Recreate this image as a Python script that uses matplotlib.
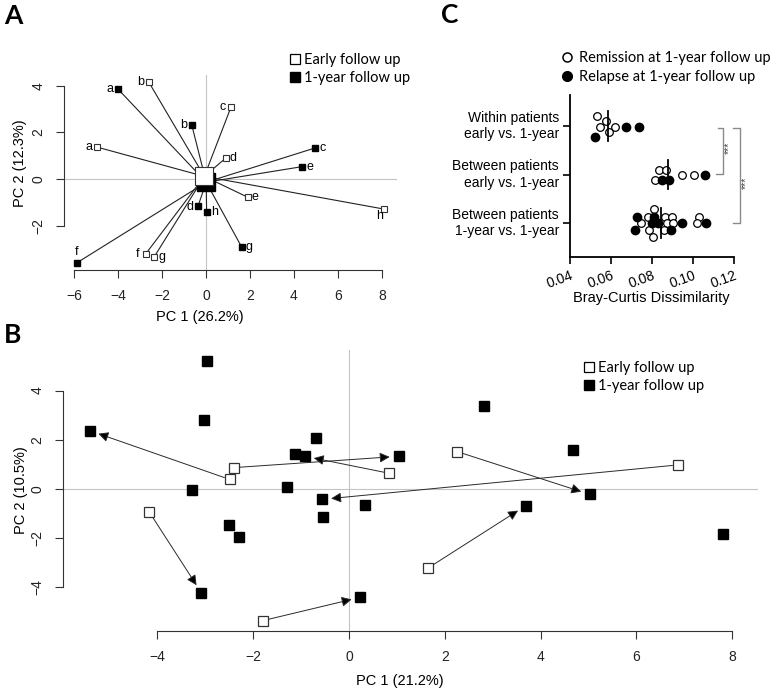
import matplotlib
matplotlib.use("Agg")
import matplotlib.pyplot as plt  # noqa: E402
import numpy as np  # noqa: E402
from matplotlib.lines import Line2D  # noqa: E402

plt.rcParams["font.family"] = ["Liberation Sans", "DejaVu Sans"]

W, H = 778, 689

# ---- panel A: PCA, each sample joined to its group centroid
a_ids = ["a", "b", "c", "d", "e", "f", "g", "h"]
a_early_x = [-4.95, -2.60, 1.14, 0.90, 1.90, -2.73, -2.36, 8.10]
a_early_y = [1.37, 4.16, 3.09, 0.90, -0.78, -3.20, -3.35, -1.29]
a_year_x = [-4.00, -0.64, 4.95, -0.36, 4.36, -5.88, 1.63, 0.03]
a_year_y = [3.86, 2.30, 1.33, -1.16, 0.53, -3.60, -2.93, -1.43]

# ---- panel B: PCA, early -> 1-year arrows for paired patients
b_early_x = [-2.49, -2.40, 0.84, 6.87, 2.26, -4.17, -1.80, 1.66]
b_early_y = [0.39, 0.87, 0.64, 0.98, 1.52, -0.93, -5.35, -3.20]
b_paired_x = [-5.41, 1.04, -0.92, -0.56, 5.03, -3.08, 0.24, 3.69]
b_paired_y = [2.37, 1.33, 1.33, -0.42, -0.22, -4.22, -4.40, -0.68]
b_other_x = [-2.97, -3.02, -3.28, -0.68, -1.13, -1.29, -2.50, -2.30, 0.33, -0.54, 7.81, 2.81, 4.67]
b_other_y = [5.22, 2.80, -0.04, 2.06, 1.42, 0.09, -1.48, -1.94, -0.65, -1.15, -1.82, 3.37, 1.59]

# ---- panel C: Bray-Curtis dissimilarities (1 = relapse at 1-year)
c_groups = ["Within patients\nearly vs. 1-year",
            "Between patients\nearly vs. 1-year",
            "Between patients\n1-year vs. 1-year"]
within_vals = [0.0530, 0.0576, 0.0547, 0.0621, 0.0592, 0.0673, 0.0738, 0.0520]
within_relapse = [0, 0, 0, 0, 0, 1, 1, 1]
within_jit = [0.21, 0.11, -0.01, -0.01, -0.12, -0.01, -0.01, -0.22]
btw_early_vals = [0.0836, 0.0868, 0.0946, 0.1006, 0.1059, 0.0816, 0.0847, 0.0884]
btw_early_relapse = [0, 0, 0, 0, 1, 0, 1, 1]
btw_early_jit = [0.10, 0.10, -0.01, -0.01, -0.01, -0.12, -0.12, -0.12]
btw_year_vals = [0.0811,
                 0.0728, 0.0779, 0.0811, 0.0865, 0.0898, 0.1029,
                 0.0745, 0.0798, 0.0828, 0.0872, 0.0904, 0.0946, 0.1021, 0.1062,
                 0.0717, 0.0787, 0.0859, 0.0893,
                 0.0803]
btw_year_relapse = [0,
                    1, 0, 1, 0, 0, 0,
                    0, 1, 1, 0, 0, 1, 0, 1,
                    1, 0, 0, 1,
                    0]
btw_year_jit = [0.28,
                0.13, 0.13, 0.13, 0.13, 0.13, 0.13,
                0.0, 0.0, 0.0, 0.0, 0.0, 0.0, 0.0, 0.0,
                -0.14, -0.14, -0.14, -0.14,
                -0.28]

DARK = "#333333"
GREY = "#c4c4c4"

fig = plt.figure(figsize=(W / 100, H / 100), dpi=100)


def axes_px(l, t, r, b):
    return fig.add_axes([l / W, 1 - b / H, (r - l) / W, (b - t) / H])


def fxy(x, y):
    return x / W, 1 - y / H


def r_style(ax, xb, yb, xt, yt):
    for s in ("top", "right"):
        ax.spines[s].set_visible(False)
    for s in ("left", "bottom"):
        ax.spines[s].set_color(DARK)
        ax.spines[s].set_linewidth(0.8)
    ax.spines["bottom"].set_bounds(*xb)
    ax.spines["left"].set_bounds(*yb)
    ax.set_xticks(xt)
    ax.set_yticks(yt)
    ax.tick_params(direction="out", length=5.5, width=0.8, color=DARK,
                   labelsize=10, pad=8, labelcolor="#222222")
    ax.tick_params(axis="y", labelrotation=90)
    for lab in ax.get_yticklabels():
        lab.set_va("center")
    ax.axhline(0, color=GREY, lw=0.8, zorder=0)
    ax.axvline(0, color=GREY, lw=0.8, zorder=0)


legend_font = {"family": ["Lato", "DejaVu Sans"], "size": 10.5}

# ================= panel A
ax = axes_px(64, 75, 397, 270)
ax.set_xlim(-6.45, 8.68)
ax.set_ylim(-3.9, 4.46)
r_style(ax, (-6, 8), (-2, 4), [-6, -4, -2, 0, 2, 4, 6, 8], [-2, 0, 2, 4])

ce = (np.mean(a_early_x), np.mean(a_early_y))
cy = (np.mean(a_year_x), np.mean(a_year_y))
for x, y in zip(a_early_x, a_early_y):
    ax.plot([x, ce[0]], [y, ce[1]], color="#222222", lw=0.8, zorder=1)
for x, y in zip(a_year_x, a_year_y):
    ax.plot([x, cy[0]], [y, cy[1]], color="#222222", lw=0.8, zorder=1)
ax.plot(a_year_x, a_year_y, "s", ms=5, mfc="black", mec="black", zorder=3)
ax.plot(a_early_x, a_early_y, "s", ms=5, mfc="white", mec=DARK, mew=0.8, zorder=3)
ax.plot(*cy, "s", ms=13, mfc="black", mec="black", zorder=4)
ax.plot(*ce, "s", ms=12.5, mfc="white", mec=DARK, mew=0.8, zorder=5)

early_off = {"a": (-6, 0), "b": (-6, 0), "c": (-6, 0), "d": (5.5, 0),
             "e": (5.5, 0), "f": (-6, 0), "g": (5.5, 0), "h": (-3.5, -5)}
year_off = {"a": (-6, 0), "b": (-6, 0), "c": (5.5, 0), "d": (-5.5, -1),
            "e": (5.5, 0), "f": (0, 8), "g": (5.5, 0), "h": (5.5, 0)}
for i, lab in enumerate(a_ids):
    ax.annotate(lab, (a_early_x[i], a_early_y[i]), xytext=early_off[lab],
                textcoords="offset points", ha="center", va="center", fontsize=9)
    ax.annotate(lab, (a_year_x[i], a_year_y[i]), xytext=year_off[lab],
                textcoords="offset points", ha="center", va="center", fontsize=9)

fig.text(*fxy(200, 317), "PC 1 (26.2%)", ha="center", va="center", fontsize=10.5)
fig.text(*fxy(20, 163), "PC 2 (12.3%)", ha="center", va="center", fontsize=10.5, rotation=90)

sq_handles = [Line2D([], [], ls="none", marker="s", ms=7, mfc="white", mec="black", mew=0.9),
              Line2D([], [], ls="none", marker="s", ms=7, mfc="black", mec="black")]
sq_labels = ["Early follow up", "1-year follow up"]
ax.legend(sq_handles, sq_labels, loc="upper left", bbox_to_anchor=fxy(289, 53),
          bbox_transform=fig.transFigure, frameon=False, prop=legend_font,
          handlelength=0.8, handletextpad=0.25, borderpad=0, borderaxespad=0,
          labelspacing=0.25)

# ================= panel B
ax = axes_px(63, 350, 758, 631)
ax.set_xlim(-5.97, 8.54)
ax.set_ylim(-5.77, 5.65)
r_style(ax, (-4, 8), (-4, 4), [-4, -2, 0, 2, 4, 6, 8], [-4, -2, 0, 2, 4])

for x0, y0, x1, y1 in zip(b_early_x, b_early_y, b_paired_x, b_paired_y):
    ax.annotate("", xy=(x1, y1), xytext=(x0, y0),
                arrowprops=dict(arrowstyle="-|>,head_length=0.6,head_width=0.3",
                                color="#2a2a2a", lw=0.7, fc="black",
                                mutation_scale=10, shrinkA=4, shrinkB=6.5),
                zorder=2)
ax.plot(b_paired_x, b_paired_y, "s", ms=7, mfc="black", mec="black", zorder=3)
ax.plot(b_other_x, b_other_y, "s", ms=7, mfc="black", mec="black", zorder=3)
ax.plot(b_early_x, b_early_y, "s", ms=7, mfc="white", mec=DARK, mew=0.9, zorder=3)

fig.text(*fxy(400, 681), "PC 1 (21.2%)", ha="center", va="center", fontsize=10.5)
fig.text(*fxy(21, 490), "PC 2 (10.5%)", ha="center", va="center", fontsize=10.5, rotation=90)
ax.legend(sq_handles, sq_labels, loc="upper left", bbox_to_anchor=fxy(583, 361),
          bbox_transform=fig.transFigure, frameon=False, prop=legend_font,
          handlelength=0.8, handletextpad=0.25, borderpad=0, borderaxespad=0,
          labelspacing=0.25)

# ================= panel C
ax = axes_px(570, 95, 734, 257)
ax.set_xlim(0.04, 0.12)
ax.set_ylim(0.30, 3.64)
for s in ("top", "right"):
    ax.spines[s].set_visible(False)
for s in ("left", "bottom"):
    ax.spines[s].set_linewidth(1.3)
ypos = [3, 2, 1]
ax.set_yticks(ypos)
ax.set_yticklabels(c_groups, fontsize=10, ha="right", va="center")
ax.set_xticks([0.04, 0.06, 0.08, 0.10, 0.12])
ax.set_xticklabels(["0.04", "0.06", "0.08", "0.10", "0.12"], fontsize=10,
                   rotation=20, ha="right", rotation_mode="anchor")
ax.tick_params(direction="out", length=5, width=1.2, pad=3)

for pos, vals, rel, jit in [(3, within_vals, within_relapse, within_jit),
                            (2, btw_early_vals, btw_early_relapse, btw_early_jit),
                            (1, btw_year_vals, btw_year_relapse, btw_year_jit)]:
    vals = np.array(vals)
    rel = np.array(rel, bool)
    yy = pos + np.array(jit)
    ax.plot(vals[~rel], yy[~rel], "o", ms=5.5, mfc="white", mec="black", mew=0.9,
            clip_on=False, zorder=3)
    ax.plot(vals[rel], yy[rel], "o", ms=6, mfc="black", mec="black",
            clip_on=False, zorder=3)
    med = np.median(vals)
    ax.plot([med, med], [pos - 0.3, pos + 0.3], color="black", lw=1.3, zorder=4)

br = "#8a8a8a"
ax.plot([0.1120, 0.1146, 0.1146, 0.1112], [2.96, 2.96, 2.01, 2.01],
        color=br, lw=1, clip_on=False)
ax.plot([0.1195, 0.1229, 0.1229, 0.1195], [2.96, 2.96, 1.0, 1.0],
        color=br, lw=1, clip_on=False)
ax.text(0.1174, 2.55, "***", rotation=90, ha="center", va="center", fontsize=7.5,
        color="#444444", clip_on=False)
ax.text(0.1260, 1.82, "***", rotation=90, ha="center", va="center", fontsize=7.5,
        color="#444444", clip_on=False)

fig.text(*fxy(651, 298), "Bray-Curtis Dissimilarity", ha="center", va="center", fontsize=10.5)
circ_handles = [Line2D([], [], ls="none", marker="o", ms=6.5, mfc="white", mec="black", mew=1.1),
                Line2D([], [], ls="none", marker="o", ms=7, mfc="black", mec="black")]
ax.legend(circ_handles, ["Remission at 1-year follow up", "Relapse at 1-year follow up"],
          loc="upper left", bbox_to_anchor=fxy(561, 51), bbox_transform=fig.transFigure,
          frameon=False, prop=legend_font, handlelength=0.8, handletextpad=0.45,
          borderpad=0, borderaxespad=0, labelspacing=0.35)

# panel letters
letter_font = {"family": ["Lato", "DejaVu Sans"], "weight": "bold", "size": 19}
fig.text(*fxy(4, 24), "A", ha="left", va="baseline", fontdict=letter_font)
fig.text(*fxy(4, 343), "B", ha="left", va="baseline", fontdict=letter_font)
fig.text(*fxy(441, 23), "C", ha="left", va="baseline", fontdict=letter_font)

fig.savefig("out.png", dpi=100)
